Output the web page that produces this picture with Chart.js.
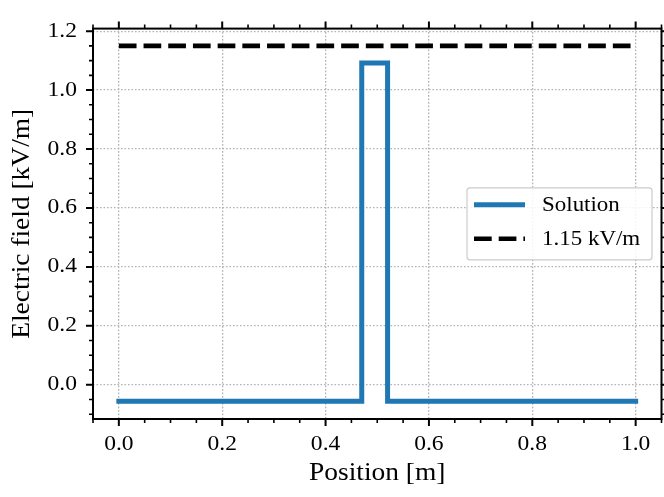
<!DOCTYPE html>
<html>
<head>
<meta charset="utf-8">
<script src="https://cdn.jsdelivr.net/npm/chart.js@4/dist/chart.umd.min.js"></script>
<style>
  html, body { margin: 0; padding: 0; background: #fff; }
  canvas { display: block; }
</style>
</head>
<body>
<canvas id="chart" width="664" height="497"></canvas>
<script>
// Electric field along the position axis (step profile)
const positions = [0, 0.47, 0.47, 0.52, 0.52, 1.0];
const fieldValues = [-0.056, -0.056, 1.092, 1.092, -0.056, -0.056];

// Reference field level
const thresholdPositions = [0, 1.0];
const thresholdValues = [1.15, 1.15];

const seriesLabels = ['Solution', '1.15 kV/m'];

// Axis ticks
const xTickValues = [0.0, 0.2, 0.4, 0.6, 0.8, 1.0];
const yTickValues = [0.0, 0.2, 0.4, 0.6, 0.8, 1.0, 1.2];
const xMinorStep = 0.05;
const yMinorStep = 0.05;

const X_MIN = -0.05, X_MAX = 1.05;
const Y_MIN = -0.1163, Y_MAX = 1.2087;

const FONT = 'Liberation Serif';
const TEXT_STRETCH = 1.12;   // slightly expanded serif lettering
const BLUE = '#1f77b4';

function toPoints(xs, ys) {
  return xs.map((x, i) => ({ x: x, y: ys[i] }));
}

function minorValues(min, max, step, majors) {
  const out = [];
  const start = Math.ceil((min - 1e-9) / step);
  for (let k = start; k * step <= max + 1e-9; k++) {
    const v = +(k * step).toFixed(6);
    if (!majors.some(m => Math.abs(m - v) < 1e-9)) out.push(v);
  }
  return out;
}

// Expanded text: stretch every glyph run horizontally around its anchor
const stretchText = {
  id: 'stretchText',
  beforeDraw(chart) {
    const ctx = chart.ctx;
    if (ctx.__stretched) return;
    const orig = ctx.fillText;
    ctx.fillText = function (text, x, y) {
      this.save();
      this.translate(x, y);
      this.scale(TEXT_STRETCH, 1);
      orig.call(this, text, 0, 0);
      this.restore();
    };
    ctx.__stretched = true;
  }
};

// Frame plus outward major/minor tick marks on all four sides
const frameTicks = {
  id: 'frameTicks',
  afterDatasetsDraw(chart) {
    const ctx = chart.ctx;
    const { left, right, top, bottom } = chart.chartArea;
    const sx = chart.scales.x, sy = chart.scales.y;
    ctx.save();
    ctx.strokeStyle = '#000';
    ctx.lineCap = 'butt';
    ctx.setLineDash([]);

    const drawX = (vals, len, w) => {
      ctx.lineWidth = w;
      vals.forEach(v => {
        const p = sx.getPixelForValue(v);
        ctx.beginPath();
        ctx.moveTo(p, bottom); ctx.lineTo(p, bottom + len);
        ctx.moveTo(p, top); ctx.lineTo(p, top - len);
        ctx.stroke();
      });
    };
    const drawY = (vals, len, w) => {
      ctx.lineWidth = w;
      vals.forEach(v => {
        const p = sy.getPixelForValue(v);
        ctx.beginPath();
        ctx.moveTo(left, p); ctx.lineTo(left - len, p);
        ctx.moveTo(right, p); ctx.lineTo(right + len, p);
        ctx.stroke();
      });
    };
    drawX(xTickValues, 7, 2);
    drawX(minorValues(X_MIN, X_MAX, xMinorStep, xTickValues), 4, 1.6);
    drawY(yTickValues, 7, 2);
    drawY(minorValues(Y_MIN, Y_MAX, yMinorStep, yTickValues), 4, 1.6);

    ctx.lineWidth = 2;
    ctx.strokeRect(left, top, right - left, bottom - top);
    ctx.restore();
  }
};

// Legend box inside the plot, centred vertically at the right
const innerLegend = {
  id: 'innerLegend',
  afterDraw(chart) {
    const ctx = chart.ctx;
    const { right, top, bottom } = chart.chartArea;
    const w = 185, h = 72;
    const bx = right - 9.5 - w;
    const by = (top + bottom) / 2 - h / 2;
    ctx.save();
    ctx.beginPath();
    ctx.roundRect(bx, by, w, h, 3);
    ctx.fillStyle = 'rgba(255,255,255,0.85)';
    ctx.fill();
    ctx.lineWidth = 1.2;
    ctx.strokeStyle = '#cccccc';
    ctx.stroke();

    const rows = [by + 17, by + 51];
    chart.data.datasets.forEach((ds, i) => {
      const yy = rows[i];
      ctx.beginPath();
      ctx.strokeStyle = ds.borderColor;
      ctx.lineWidth = ds.borderWidth;
      ctx.lineCap = 'butt';
      ctx.setLineDash(ds.borderDash || []);
      ctx.moveTo(bx + 7, yy);
      ctx.lineTo(bx + 58, yy);
      ctx.stroke();
      ctx.setLineDash([]);
      ctx.fillStyle = '#000';
      ctx.font = '20.5px "' + FONT + '"';
      ctx.textAlign = 'left';
      ctx.textBaseline = 'middle';
      ctx.fillText(ds.label, bx + 75, yy + 1);
    });
    ctx.restore();
  }
};

const gridStyle = {
  color: '#b4b4b4',
  lineWidth: 1.3,
  drawTicks: false
};

new Chart(document.getElementById('chart'), {
  type: 'scatter',
  data: {
    datasets: [
      {
        label: seriesLabels[0],
        data: toPoints(positions, fieldValues),
        showLine: true,
        borderColor: BLUE,
        backgroundColor: BLUE,
        borderWidth: 5,
        borderCapStyle: 'square',
        borderJoinStyle: 'miter',
        pointRadius: 0,
        tension: 0
      },
      {
        label: seriesLabels[1],
        data: toPoints(thresholdPositions, thresholdValues),
        showLine: true,
        borderColor: '#000000',
        backgroundColor: '#000000',
        borderWidth: 4.6,
        borderDash: [17.7, 7],
        borderCapStyle: 'butt',
        pointRadius: 0,
        tension: 0
      }
    ]
  },
  options: {
    responsive: false,
    animation: false,
    devicePixelRatio: 1,
    layout: { padding: { top: 9, right: 2.5, left: 0, bottom: 0 } },
    plugins: {
      legend: { display: false },
      tooltip: { enabled: false }
    },
    scales: {
      x: {
        type: 'linear',
        min: X_MIN,
        max: X_MAX,
        afterBuildTicks(scale) { scale.ticks = xTickValues.map(v => ({ value: v })); },
        afterFit(scale) { scale.height = 78; },
        grid: gridStyle,
        border: { display: false, dash: [1.6, 1.9] },
        ticks: {
          padding: 13,
          color: '#000',
          font: { family: FONT, size: 21 },
          callback: v => Number(v).toFixed(1)
        },
        title: {
          display: true,
          text: 'Position [m]',
          color: '#000',
          font: { family: FONT, size: 24.5 },
          padding: { top: 0, bottom: 9 }
        }
      },
      y: {
        type: 'linear',
        min: Y_MIN,
        max: Y_MAX,
        afterBuildTicks(scale) { scale.ticks = yTickValues.map(v => ({ value: v })); },
        afterFit(scale) { scale.width = 93; },
        grid: gridStyle,
        border: { display: false, dash: [1.6, 1.9] },
        ticks: {
          padding: 16,
          color: '#000',
          font: { family: FONT, size: 21 },
          callback: v => Number(v).toFixed(1)
        },
        title: {
          display: true,
          text: 'Electric field [kV/m]',
          color: '#000',
          font: { family: FONT, size: 24.5 },
          padding: { top: 8, bottom: 0 }
        }
      }
    }
  },
  plugins: [stretchText, frameTicks, innerLegend]
});
</script>
</body>
</html>
